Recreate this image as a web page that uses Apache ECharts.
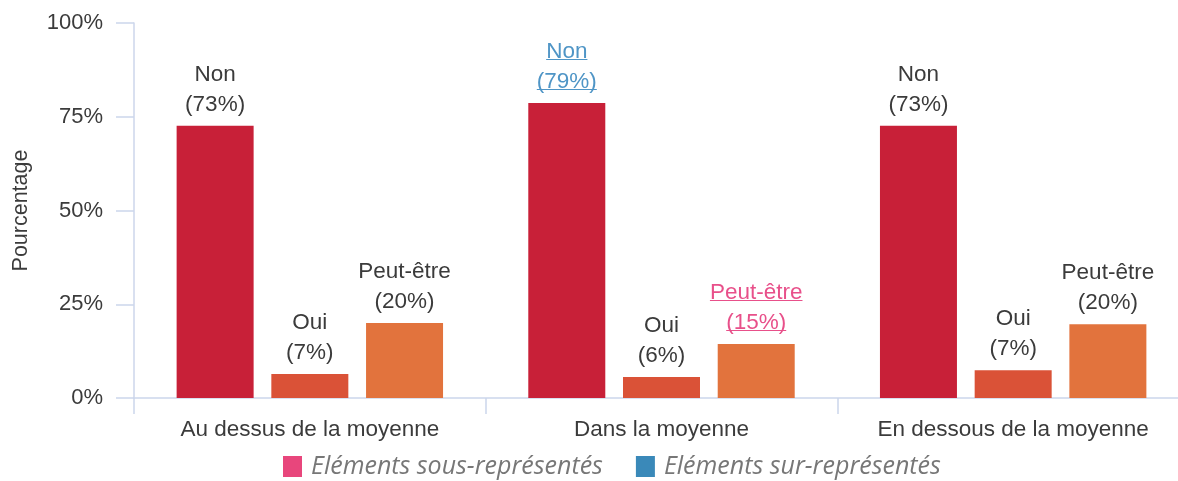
<!DOCTYPE html>
<html>
<head>
<meta charset="utf-8">
<script src="https://cdn.jsdelivr.net/npm/echarts@6/dist/echarts.min.js"></script>
<style>
  html, body { margin: 0; padding: 0; background: #fff; }
  #chart { width: 1178px; height: 481px; }
</style>
</head>
<body>
<div id="chart"></div>
<script>
const categories = ['Au dessus de la moyenne', 'Dans la moyenne', 'En dessous de la moyenne']
const seriesNames = ['Non', 'Oui', 'Peut-être']
// bar heights (%)
const nonValues = [72.6, 78.7, 72.6]
const ouiValues = [6.4, 5.6, 7.4]
const peutValues = [20.0, 14.4, 19.7]
// percentages shown in the labels
const nonLabels = [73, 79, 73]
const ouiLabels = [7, 6, 7]
const peutLabels = [20, 15, 20]
// 'sur' = over-represented (blue), 'sous' = under-represented (pink)
const nonFlags = [null, 'sur', null]
const ouiFlags = [null, null, null]
const peutFlags = [null, 'sous', null]
const yTicks = [0, 25, 50, 75, 100]
const legendNames = ['Eléments sous-représentés', 'Eléments sur-représentés']

const barColors = ['#c82038', '#da5237', '#e2733d']
const flagColors = { sous: '#e8508a', sur: '#4f95c6' }
const legendColors = ['#e8467c', '#3a89b9']
const textColor = '#3b3b3b'
const axisColor = '#ccd6eb'
const font = '"Liberation Sans", Arial, sans-serif'

function underline(color) {
  return new echarts.graphic.LinearGradient(0, 0, 0, 1, [
    { offset: 0, color: 'rgba(255,255,255,0)' },
    { offset: 0.81, color: 'rgba(255,255,255,0)' },
    { offset: 0.81, color: color },
    { offset: 0.865, color: color },
    { offset: 0.865, color: 'rgba(255,255,255,0)' },
    { offset: 1, color: 'rgba(255,255,255,0)' },
  ])
}

const labelFont = { fontSize: 22.5, fontFamily: font, lineHeight: 30 }
const rich = {
  n: { ...labelFont, color: textColor },
  sous: { ...labelFont, color: flagColors.sous, backgroundColor: underline(flagColors.sous) },
  sur: { ...labelFont, color: flagColors.sur, backgroundColor: underline(flagColors.sur) },
}

function makeSeries(name, values, labels, flags, color) {
  return {
    name,
    type: 'bar',
    barWidth: 77,
    barGap: '23%',
    itemStyle: { color },
    data: values,
    label: {
      show: true,
      position: 'top',
      distance: 6,
      align: 'center',
      rich,
      formatter: (p) => {
        const k = flags[p.dataIndex] || 'n'
        return `{${k}|${name}}\n{${k}|(${labels[p.dataIndex]}%)}`
      },
    },
  }
}

const chart = echarts.init(document.getElementById('chart'))
chart.setOption({
  animation: false,
  textStyle: { fontFamily: font },
  grid: { left: 134, width: 1055, top: 23, height: 375, containLabel: false, outerBoundsMode: 'none' },
  legend: {
    data: legendNames,
    left: 278,
    top: 449,
    icon: 'rect',
    itemWidth: 19,
    itemHeight: 21,
    itemGap: 33,
    selectedMode: false,
    textStyle: { fontFamily: '"Open Sans", sans-serif', fontStyle: 'italic', fontSize: 25, color: '#777777', padding: [0, 0, 0, 4] },
  },
  xAxis: {
    type: 'category',
    data: categories,
    axisLine: { lineStyle: { color: axisColor, width: 1.5 } },
    axisTick: { show: true, interval: 0, length: 16, lineStyle: { color: axisColor, width: 1.5 } },
    axisLabel: { color: textColor, fontSize: 22.5, margin: 20, interval: 0, hideOverlap: false },
  },
  yAxis: {
    type: 'value',
    min: yTicks[0],
    max: yTicks[yTicks.length - 1],
    interval: 25,
    name: 'Pourcentage',
    nameLocation: 'middle',
    nameGap: 102,
    nameTextStyle: { color: textColor, fontSize: 21.5 },
    axisLine: { show: true, lineStyle: { color: axisColor, width: 1.5 } },
    axisTick: { show: true, length: 18, lineStyle: { color: axisColor, width: 1.5 } },
    splitLine: { show: false },
    axisLabel: { color: textColor, fontSize: 22, margin: 31, formatter: '{value}%' },
  },
  series: [
    makeSeries(seriesNames[0], nonValues, nonLabels, nonFlags, barColors[0]),
    makeSeries(seriesNames[1], ouiValues, ouiLabels, ouiFlags, barColors[1]),
    makeSeries(seriesNames[2], peutValues, peutLabels, peutFlags, barColors[2]),
    // legend-only entries
    { name: legendNames[0], type: 'line', data: [], itemStyle: { color: legendColors[0] } },
    { name: legendNames[1], type: 'line', data: [], itemStyle: { color: legendColors[1] } },
  ],
})
</script>
</body>
</html>
